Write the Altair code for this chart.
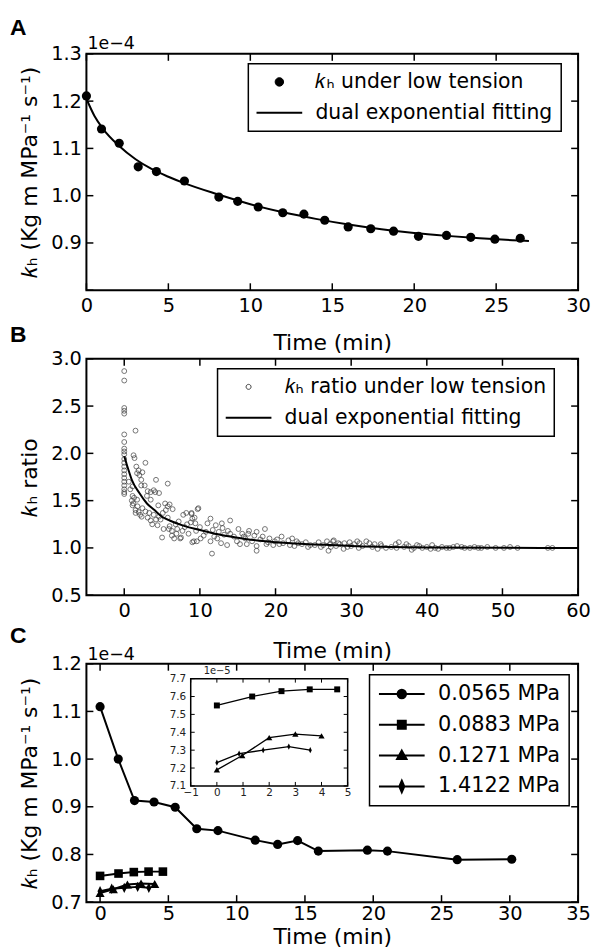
import altair as alt
import pandas as pd

FONT = "DejaVu Sans"
W = 495
H_A, H_B, H_C = 238, 238, 240
GAP = 69
TL = 7

# ---------------- Panel A data ----------------
a_time = [0.0, 0.92, 2.0, 3.16, 4.27, 5.98, 8.08, 9.23, 10.48, 11.98, 13.27, 14.54,
          15.97, 17.35, 18.74, 20.26, 21.97, 23.45, 24.92, 26.47]
a_kh = [1.211, 1.141, 1.111, 1.061, 1.051, 1.031, 0.997, 0.988, 0.976, 0.964, 0.961, 0.948,
        0.934, 0.930, 0.925, 0.914, 0.916, 0.912, 0.908, 0.910]
a_fit_time = [0, 0.5, 1, 2, 3, 4, 5, 6, 8, 10, 12, 14, 16, 18, 20, 22, 24, 26, 27]
a_fit_kh = [1.205, 1.168, 1.142, 1.105, 1.077, 1.056, 1.040, 1.026, 1.003, 0.982, 0.965,
            0.951, 0.939, 0.929, 0.921, 0.915, 0.910, 0.906, 0.904]
a_legend = ["\U0001D458\u2095 under low tension", "dual exponential fitting"]
a_xticks = [0, 5, 10, 15, 20, 25, 30]
a_yticks = [0.8, 0.9, 1.0, 1.1, 1.2, 1.3]
a_ylabels = [0.9, 1.0, 1.1, 1.2, 1.3]

# ---------------- Panel B data ----------------
b_time = [0.0] * 21 + [
    1.49, 1.23, 1.36, 2.8, 1.6, 1.9, 1.7, 2.4, 2.0, 2.25,
    1.1, 2.25, 2.7, 4.2, 5.75, 3.1, 3.5, 3.9, 4.1, 4.6,
    1.1, 1.3, 1.7, 3.5, 5.4, 5.75, 6.0, 1.1, 1.75, 2.4,
    1.5, 1.9, 2.8, 3.3, 3.9, 4.6, 5.1, 5.5, 6.4, 3.1,
    3.5, 4.2, 4.8, 5.75, 7.8, 8.2, 8.9, 9.3, 9.8, 3.7,
    4.4, 5.2, 5.9, 6.3, 7.0, 7.7, 8.3, 8.8, 9.4, 5.0,
    6.3, 7.5, 9.0, 9.6, 6.6, 7.4,
    1.0, 1.2, 1.5, 2.1, 2.3, 0.8, 0.6, 3.0, 4.5, 6.8, 7.2, 8.0, 6.0, 6.9, 8.5, 9.5, 10.0,
    8.9, 9.7, 9.0, 11.0, 11.4, 12.1, 12.9, 14.0, 10.8, 11.7,
    12.5, 13.2, 14.0, 15.1, 15.6, 16.4, 17.5, 18.6, 10.1, 11.4,
    12.3, 13.6, 14.9, 16.0, 16.9, 17.5, 17.5, 11.6, 9.2, 19.2,
    19.9, 20.8, 21.7, 22.8, 20.5, 19.7, 21.9, 23.5, 24.6, 25.7,
    26.8, 27.7, 25.2, 26.3, 27.2, 28.3,
    13.0, 14.5, 15.8, 16.5, 17.2, 18.0, 18.3, 19.0, 20.2, 21.0, 22.2, 23.0,
    24.0, 12.8, 15.3, 10.5, 11.9, 13.7, 16.2, 18.8, 22.5, 24.3, 26.0, 27.0,
    27.6, 28.5, 29.1, 29.8, 30.4, 31.1, 31.5, 32.0, 32.4, 33.1,
    33.9, 34.6, 35.3, 35.9, 36.3, 37.0, 37.6, 38.3, 38.7, 39.4,
    40.0, 40.7, 41.1, 42.0, 42.6, 43.5, 44.6, 45.7, 46.3, 47.2,
    48.0, 49.1, 50.2, 51.0, 52.0, 56.0, 56.6,
    28.0, 29.5, 30.0, 31.0, 32.8, 34.0, 36.0, 37.3, 39.0, 41.5,
    43.0, 44.0, 30.8, 27.3, 29.0, 33.5, 38.0, 40.5, 45.0, 46.8,
]
b_ratio = [2.87, 2.77, 2.48, 2.45, 2.42, 2.20, 2.12, 2.05, 2.02, 1.99, 1.94, 1.90, 1.86,
           1.82, 1.78, 1.74, 1.70, 1.66, 1.62, 1.59, 1.57] + [
    2.24, 1.98, 1.95, 1.90, 1.86, 1.82, 1.79, 1.80, 1.77, 1.72,
    1.65, 1.66, 1.66, 1.72, 1.68, 1.60, 1.59, 1.61, 1.59, 1.58,
    1.55, 1.53, 1.51, 1.51, 1.47, 1.44, 1.46, 1.45, 1.44, 1.42,
    1.37, 1.38, 1.385, 1.37, 1.35, 1.33, 1.37, 1.40, 1.41, 1.32,
    1.29, 1.30, 1.30, 1.32, 1.35, 1.37, 1.37, 1.32, 1.42, 1.25,
    1.24, 1.20, 1.20, 1.18, 1.20, 1.18, 1.25, 1.27, 1.26, 1.11,
    1.13, 1.11, 1.06, 1.07, 1.10, 1.10,
    1.50, 1.47, 1.40, 1.35, 1.33, 1.62, 1.70, 1.55, 1.45, 1.25, 1.28, 1.22, 1.23, 1.15, 1.15, 1.18, 1.22,
    1.36, 1.41, 1.31, 1.26, 1.31, 1.24, 1.26, 1.29, 1.17, 1.19,
    1.17, 1.14, 1.15, 1.20, 1.15, 1.15, 1.17, 1.20, 1.10, 1.07,
    1.10, 1.03, 1.07, 1.10, 1.07, 1.02, 0.97, 0.94, 1.07, 1.10,
    1.07, 1.12, 1.08, 1.07, 1.04, 1.03, 1.03, 1.04, 1.03, 1.06,
    1.07, 1.08, 1.03, 1.03, 1.04, 1.05,
    1.21, 1.12, 1.12, 1.18, 1.13, 1.09, 1.12, 1.06, 1.09, 1.05, 1.10, 1.05,
    1.06, 1.05, 1.04, 1.13, 1.12, 1.18, 1.04, 1.04, 1.02, 1.01, 1.01, 0.97,
    1.07, 1.04, 1.05, 1.06, 1.04, 1.05, 1.02, 1.07, 1.05, 1.04,
    1.04, 1.00, 1.01, 1.04, 1.06, 1.01, 1.02, 1.00, 1.03, 1.00,
    1.01, 1.03, 1.00, 1.01, 1.00, 1.01, 1.01, 1.00, 1.01, 1.00,
    1.01, 1.00, 1.00, 1.01, 1.00, 1.00, 1.00,
    1.02, 1.01, 1.02, 1.00, 1.01, 1.02, 1.00, 1.04, 1.02, 0.99,
    1.00, 1.02, 1.07, 1.01, 0.99, 0.99, 0.98, 0.99, 1.00, 1.00,
]
b_fit_time = [0, 0.5, 1, 2, 3, 4, 5, 6, 8, 10, 12, 14, 16, 18, 20, 22, 25, 28, 30, 35, 40, 50, 60]
b_fit_ratio = [1.97, 1.84, 1.72, 1.58, 1.47, 1.40, 1.33, 1.29, 1.23, 1.19, 1.15, 1.12, 1.095,
               1.075, 1.06, 1.05, 1.037, 1.028, 1.02, 1.01, 1.004, 1.001, 1.0]
b_legend = ["\U0001D458\u2095 ratio under low tension", "dual exponential fitting "]
b_xticks = [0, 10, 20, 30, 40, 50, 60]
b_yticks = [0.5, 1.0, 1.5, 2.0, 2.5, 3.0]

# ---------------- Panel C data ----------------
c_series = ["0.0565 MPa", "0.0883 MPa", "0.1271 MPa", "1.4122 MPa"]
c1_time = [0, 1.33, 2.52, 3.95, 5.5, 7.08, 8.63, 11.36, 13.0, 14.46, 15.98, 19.57, 21.04, 26.15, 30.14]
c1_kh = [1.110, 1.000, 0.913, 0.910, 0.899, 0.854, 0.850, 0.830, 0.821, 0.829, 0.807, 0.809,
         0.807, 0.789, 0.790]
# the three short series, in units of 1e-5
c2_time = [0, 1.35, 2.47, 3.55, 4.6]
c2_kh5 = [7.55, 7.60, 7.63, 7.64, 7.64]
c3_time = [0, 0.97, 2.0, 3.0, 4.0]
c3_kh5 = [7.19, 7.27, 7.37, 7.39, 7.38]
c4_time = [0, 0.85, 1.77, 2.75, 3.57]
c4_kh5 = [7.23, 7.28, 7.30, 7.32, 7.30]
c_xticks = [0, 5, 10, 15, 20, 25, 30, 35]
c_yticks = [0.7, 0.8, 0.9, 1.0, 1.1, 1.2]
inset_xdomain = [-1, 5]
inset_ydomain = [7.1, 7.7]
inset_xticks = [-1, 0, 1, 2, 3, 4, 5]
inset_yticks = [7.1, 7.2, 7.3, 7.4, 7.5, 7.6, 7.7]

YTITLE = "\U0001D458\u2095  (Kg m MPa\u207B\u00B9 s\u207B\u00B9)"
BTITLE = "\U0001D458\u2095  ratio"

# legend symbols (custom paths; 1 unit = 5 px at symbolSize 100)
P_LINE = "M-4.6,0L4.6,0"
P_DOT = "M0.85,0A0.85,0.85 0 1,1 -0.85,0A0.85,0.85 0 1,1 0.85,0Z"
P_RING = "M0.5,0A0.5,0.5 0 1,1 -0.5,0A0.5,0.5 0 1,1 0.5,0Z"
P_SQ = "M-0.8,-0.8L0.8,-0.8L0.8,0.8L-0.8,0.8Z"
P_TRI = "M0,-1.0L0.95,0.7L-0.95,0.7Z"
P_DIA = "M0,-1.15L0.5,0L0,1.15L-0.5,0Z"
DIAMOND = "M0,-1.25L0.62,0L0,1.25L-0.62,0Z"

FS_TICK = 19.5
FS_TITLE = 22
FS_LEG = 20.5


def x_axis(values, fmt, lpad, title, tpad):
    return alt.Axis(values=values, format=fmt, domain=False, ticks=False, grid=False,
                    labelPadding=lpad, labelFlush=False, labelOverlap=False,
                    title=title, titlePadding=tpad)


def y_axis(values, fmt, title, tpad=9):
    return alt.Axis(values=values, format=fmt, domain=False, ticks=False, grid=False,
                    labelPadding=5, labelFlush=False, labelOverlap=False,
                    title=title, titlePadding=tpad)


def frame_ticks(X, Y, xt, yt, left, right, top, bottom, tl, sw):
    bx = alt.Chart(pd.DataFrame({"x": xt})).mark_rule(color="black", strokeWidth=sw)
    by = alt.Chart(pd.DataFrame({"y": yt})).mark_rule(color="black", strokeWidth=sw)
    return [
        bx.encode(x=X, y=alt.value(bottom), y2=alt.value(bottom - tl)),
        bx.encode(x=X, y=alt.value(top), y2=alt.value(top + tl)),
        by.encode(y=Y, x=alt.value(left), x2=alt.value(left + tl)),
        by.encode(y=Y, x=alt.value(right), x2=alt.value(right - tl)),
    ]


def label(txt, x, y, size, weight="normal", font=FONT, color="black", baseline="middle"):
    return alt.Chart(pd.DataFrame({"t": [txt]})).mark_text(
        align="left", baseline=baseline, fontSize=size, fontWeight=weight, font=font, color=color
    ).encode(text="t:N", x=alt.value(x), y=alt.value(y))


def legend(lx, ly, fs, rowpad, pad):
    return alt.Legend(orient="none", legendX=lx, legendY=ly, title=None,
                      strokeColor="black", fillColor="white", padding=pad, cornerRadius=0,
                      labelFont=FONT, labelFontSize=fs, labelColor="black", labelLimit=500,
                      symbolSize=100, symbolOffset=13, labelOffset=26, rowPadding=rowpad,
                      symbolStrokeWidth=2, symbolOpacity=1)


def legend_layer(field, labels, shapes, strokes, fills, widths, leg):
    sc = lambda rng: alt.Scale(domain=labels, range=rng)
    return alt.Chart(pd.DataFrame({field: labels})).transform_filter("false").mark_point(
        filled=False, opacity=1).encode(
        shape=alt.Shape(f"{field}:N", scale=sc(shapes), legend=leg),
        color=alt.Color(f"{field}:N", scale=sc(strokes), legend=leg),
        fill=alt.Fill(f"{field}:N", scale=sc(fills), legend=leg),
        strokeWidth=alt.StrokeWidth(f"{field}:N", scale=sc(widths), legend=leg),
    )


# ---------------- Panel A ----------------
xsA = alt.Scale(domain=[0, 30], nice=False, zero=False)
ysA = alt.Scale(domain=[0.8, 1.3], nice=False, zero=False)
XA = alt.X("x:Q", scale=xsA, axis=x_axis(a_xticks, "d", 6, "Time (min)", 18))
YA = alt.Y("y:Q", scale=ysA, axis=y_axis(a_ylabels, ".1f", YTITLE))
lineA = alt.Chart(pd.DataFrame({"x": a_fit_time, "y": a_fit_kh})).mark_line(
    color="black", strokeWidth=2, interpolate="monotone").encode(x=XA, y=YA)
ptsA = alt.Chart(pd.DataFrame({"x": a_time, "y": a_kh})).mark_circle(
    color="black", size=85, opacity=1).encode(x=XA, y=YA)
legA = legend_layer("la", a_legend, [P_DOT, P_LINE], ["black", "black"], ["black", "black"],
                    [1, 2], legend(163, 10, FS_LEG, 10, 8))
panelA = alt.layer(
    lineA, ptsA, *frame_ticks(XA, YA, a_xticks, a_yticks, 0, W, 0, H_A, TL, 1.5), legA,
    label("A", -77, -26, 23, "bold", "Liberation Sans"),
    label("1e\u22124", 1, -10, 17.5),
).properties(width=W, height=H_A)

# ---------------- Panel B ----------------
xsB = alt.Scale(domain=[-5, 60], nice=False, zero=False)
ysB = alt.Scale(domain=[0.5, 3.0], nice=False, zero=False)
XB = alt.X("x:Q", scale=xsB, axis=x_axis(b_xticks, "d", 6, "Time (min)", 21))
YB = alt.Y("y:Q", scale=ysB, axis=y_axis(b_yticks, ".1f", BTITLE))
ptsB = alt.Chart(pd.DataFrame({"x": b_time, "y": b_ratio})).mark_point(
    filled=False, shape="circle", size=24, color="#3a3a3a", strokeWidth=1).encode(x=XB, y=YB)
lineB = alt.Chart(pd.DataFrame({"x": b_fit_time, "y": b_fit_ratio})).mark_line(
    color="black", strokeWidth=2, interpolate="monotone").encode(x=XB, y=YB)
legB = legend_layer("lb", b_legend, [P_RING, P_LINE], ["#3a3a3a", "black"],
                    ["white", "white"], [1, 2], legend(132, 10, FS_LEG, 10, 8))
panelB = alt.layer(
    ptsB, lineB, *frame_ticks(XB, YB, b_xticks, b_yticks, 0, W, 0, H_B, TL, 1.5), legB,
    label("B", -77, -24, 23, "bold", "Liberation Sans"),
).properties(width=W, height=H_B)

# ---------------- Panel C ----------------
xsC = alt.Scale(domain=[-1, 35], nice=False, zero=False)
ysC = alt.Scale(domain=[0.7, 1.2], nice=False, zero=False)
XC = alt.X("x:Q", scale=xsC, axis=x_axis(c_xticks, "d", 2, "Time (min)", 4))
YC = alt.Y("y:Q", scale=ysC, axis=y_axis(c_yticks, ".1f", YTITLE))

c_times = [c1_time, c2_time, c3_time, c4_time]
c_vals = [c1_kh, [v / 10 for v in c2_kh5], [v / 10 for v in c3_kh5], [v / 10 for v in c4_kh5]]
c_inset_vals = [c2_kh5, c3_kh5, c4_kh5]
dfC = pd.concat([pd.DataFrame({"x": t, "y": v, "s": s})
                 for t, v, s in zip(c_times, c_vals, c_series)], ignore_index=True)
dfI = pd.concat([pd.DataFrame({"x": t, "y": v, "s": s})
                 for t, v, s in zip(c_times[1:], c_inset_vals, c_series[1:])], ignore_index=True)

main_shapes = ["circle", "square", "triangle-up", DIAMOND]
main_sizes = [85, 75, 85, 70]
linesC = alt.Chart(dfC).mark_line(color="black", strokeWidth=2).encode(
    x=XC, y=YC, detail="s:N")
ptsC = [alt.Chart(dfC).transform_filter(alt.datum.s == s).mark_point(
    filled=True, opacity=1, color="black", shape=sh, size=sz).encode(x=XC, y=YC)
    for s, sh, sz in zip(c_series, main_shapes, main_sizes)]
legC = legend_layer("lc", c_series,
                    [P_LINE + P_DOT, P_LINE + P_SQ, P_LINE + P_TRI, P_LINE + P_DIA],
                    ["black"] * 4, ["black"] * 4, [2, 2.01, 2.02, 2.03],
                    legend(285, 11, 21, 9, 9))
mainC = alt.layer(linesC, *ptsC,
                  *frame_ticks(XC, YC, c_xticks, c_yticks, 0, W, 0, H_C, TL, 1.5), legC,
                  label("C", -77, -28, 23, "bold", "Liberation Sans"),
                  label("1e\u22124", 1, -9, 17.5))

IX0, IX1, IY0, IY1 = 105, 263, 15, 123
xsI = alt.Scale(domain=inset_xdomain, range=[IX0, IX1], nice=False, zero=False)
ysI = alt.Scale(domain=inset_ydomain, range=[IY1, IY0], nice=False, zero=False)
XI = alt.X("x:Q", scale=xsI, axis=alt.Axis(
    orient="bottom", offset=-(H_C - IY1), values=inset_xticks, format="d", domain=False,
    ticks=False, grid=False, labelPadding=2, labelFontSize=10.5, labelColor="#222",
    labelFlush=False, labelOverlap=False, title=None))
YI = alt.Y("y:Q", scale=ysI, axis=alt.Axis(
    orient="left", offset=-IX0, values=inset_yticks, format=".1f", domain=False,
    ticks=False, grid=False, labelPadding=5, labelFontSize=10.5, labelColor="#222",
    labelFlush=False, labelOverlap=False, title=None))
frameI = alt.Chart(pd.DataFrame({"x": [inset_xdomain[0]], "x2": [inset_xdomain[1]],
                                 "y": [inset_ydomain[0]], "y2": [inset_ydomain[1]]})).mark_rect(
    fill="white", stroke="black", strokeWidth=1.5).encode(x=XI, x2="x2:Q", y=YI, y2="y2:Q")
linesI = alt.Chart(dfI).mark_line(color="black", strokeWidth=1.3).encode(x=XI, y=YI, detail="s:N")
inset_shapes = ["square", "triangle-up", DIAMOND]
inset_sizes = [36, 40, 26]
ptsI = [alt.Chart(dfI).transform_filter(alt.datum.s == s).mark_point(
    filled=True, opacity=1, color="black", shape=sh, size=sz).encode(x=XI, y=YI)
    for s, sh, sz in zip(c_series[1:], inset_shapes, inset_sizes)]
insetC = alt.layer(frameI, linesI, *ptsI,
                   *frame_ticks(XI, YI, inset_xticks, inset_yticks, IX0, IX1, IY0, IY1, 4, 1),
                   label("1e\u22125", IX0 + 13, IY0 - 8, 10, color="#222"))

panelC = alt.layer(mainC, insetC).resolve_scale(x="independent", y="independent").properties(
    width=W, height=H_C)

chart = alt.vconcat(panelA, panelB, panelC, spacing=GAP, bounds="flush").resolve_scale(
    shape="independent", color="independent", strokeWidth="independent", fill="independent"
).resolve_legend(shape="independent", color="independent", strokeWidth="independent",
                 fill="independent").properties(
    padding={"left": 9, "top": 13, "right": 2, "bottom": 1},
).configure_view(stroke="black", strokeWidth=2).configure_axis(
    labelFont=FONT, labelFontSize=FS_TICK, labelColor="black", titleFont=FONT,
    titleFontSize=FS_TITLE, titleFontWeight="normal", titleColor="black"
).configure_legend(strokeWidth=1.5).configure_text(font=FONT)

chart.save("out.html", embed_options={"renderer": "svg", "actions": False})
